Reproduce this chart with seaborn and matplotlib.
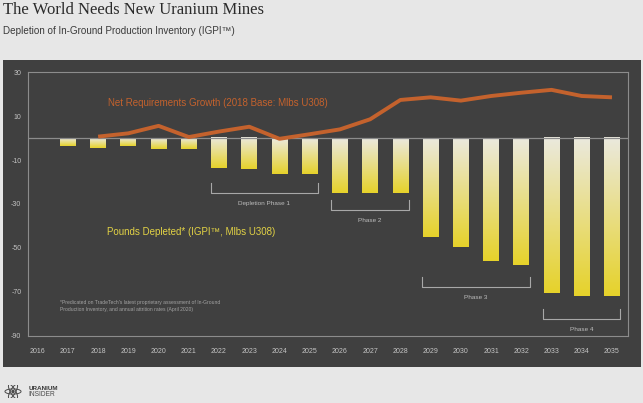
"""Uranium inventory depletion chart: gradient bars plus net requirements line."""

import matplotlib
matplotlib.use("Agg")  # headless rendering
import matplotlib.pyplot as plt
import numpy as np
import seaborn as sns
from matplotlib.colors import LinearSegmentedColormap
from matplotlib.patches import Ellipse, Circle, Rectangle

# --- data -----------------------------------------------------------------
axis_years = list(range(2016, 2036))
depleted_years = list(range(2017, 2036))
pounds_depleted = [-3.6, -4.3, -3.6, -4.8, -4.8,
                   -13.7, -14.2, -16.4, -16.3,
                   -25.0, -25.0, -25.0,
                   -45.0, -49.4, -55.9, -57.8,
                   -70.7, -72.0, -72.0]
growth_years = list(range(2018, 2036))
net_growth = [0.7, 2.2, 5.6, 0.5, 3.0, 5.2, -0.3, 1.8, 4.0, 8.6,
              17.4, 18.6, 17.1, 19.2, 20.7, 22.0, 19.2, 18.6]
y_ticks = [30, 10, -10, -30, -50, -70, -90]
phase_labels = ["Depletion Phase 1", "Phase 2", "Phase 3", "Phase 4"]
phase_first = [2022, 2026, 2029, 2033]
phase_last = [2025, 2028, 2032, 2035]

# --- style ----------------------------------------------------------------
BG = "#e7e7e7"
PANEL = "#404040"
FRAME = "#8c8c8c"
TICK = "#c4c4c4"
ORANGE = "#c4622d"
YELLOW = "#e2d245"
BAR_W = 0.52
phase_bracket_top = [-20.5, -28.2, -63.4, -77.9]  # bracket tick tops (data units)
BRACKET_DEPTH = 4.6
LABEL_GAP = 4.6

plt.rcParams["font.family"] = ["Liberation Sans", "DejaVu Sans"]
plt.rcParams["axes.unicode_minus"] = False

fig = plt.figure(figsize=(6.43, 4.03), dpi=100, facecolor=BG)
fig.patches.append(Rectangle((3 / 643, 1 - 366.7 / 403), 637.7 / 643, 306.7 / 403,
                             transform=fig.transFigure, facecolor=PANEL,
                             edgecolor="none", zorder=-10))

ax = fig.add_axes([28.3 / 643, 1 - 335.7 / 403, 599.4 / 643, 263.4 / 403])
ax.set_facecolor("none")

sns.barplot(x=depleted_years, y=pounds_depleted, native_scale=True, width=BAR_W,
            color=YELLOW, linewidth=0, errorbar=None, ax=ax, zorder=2)

# vertical gradient in each bar: cream at the zero line, yellow at the bottom
cmap = LinearSegmentedColormap.from_list("depl", ["#e6d22a", "#ebe9de"])
grad = np.linspace(0, 1, 256).reshape(-1, 1)
for bar in list(ax.patches):
    x0, w = bar.get_x(), bar.get_width()
    y0, h = bar.get_y(), bar.get_height()
    lo, hi = min(y0, y0 + h), max(y0, y0 + h)
    ax.imshow(grad, extent=(x0, x0 + w, lo, hi), origin="lower", cmap=cmap,
              aspect="auto", interpolation="bilinear", zorder=2)
    bar.set_visible(False)

ax.axhline(0, color=FRAME, linewidth=0.9, zorder=3)

sns.lineplot(x=growth_years, y=net_growth, color=ORANGE, linewidth=2.8,
             solid_capstyle="butt", solid_joinstyle="round", ax=ax, zorder=4)

# phase brackets
for label, first, last, top in zip(phase_labels, phase_first, phase_last, phase_bracket_top):
    left, right = first - BAR_W / 2 - 0.02, last + BAR_W / 2 + 0.02
    bottom = top - BRACKET_DEPTH
    ax.plot([left, left, right, right], [top, bottom, bottom, top],
            color="#a8a8a8", linewidth=0.8, zorder=3)
    ax.text((left + right) / 2, bottom - LABEL_GAP, label, ha="center", va="center",
            fontsize=4.6, color="#bdbdbd")

ax.text(2018.33, 15.8, "Net Requirements Growth (2018 Base: Mlbs U308)",
        fontsize=7, color=ORANGE, va="center", ha="left")
ax.text(2018.3, -42.7, "Pounds Depleted* (IGPI™, Mlbs U308)",
        fontsize=7, color=YELLOW, va="center", ha="left")
ax.text(2016.74, -76.5,
        "*Predicated on TradeTech's latest proprietary assessment of In-Ground\n"
        "Production Inventory, and annual attrition rates (April 2020)",
        fontsize=3.6, color="#a4a4a4", va="center", ha="left", linespacing=1.3)

ax.set_xlim(2015.69, 2035.52)
ax.set_ylim(-90, 30)
ax.set_xticks(axis_years)
ax.set_xticklabels([str(y) for y in axis_years])
ax.set_yticks(y_ticks)
ax.set_xlabel("")
ax.set_ylabel("")
ax.tick_params(axis="both", length=0, labelsize=5, labelcolor=TICK)
ax.tick_params(axis="x", pad=9)
ax.tick_params(axis="y", pad=5)
for spine in ax.spines.values():
    spine.set_color(FRAME)
    spine.set_linewidth(0.8)
ax.grid(False)

# titles
fig.text(3 / 643, 1 - 10 / 403, "The World Needs New Uranium Mines",
         family=["Liberation Serif", "DejaVu Serif"], fontsize=12,
         color="#2b2b2b", va="center", ha="left")
fig.text(3 / 643, 1 - 31 / 403, "Depletion of In-Ground Production Inventory (IGPI™)",
         fontsize=7.1, color="#3a3a3a", va="center", ha="left")

# logo
icon = fig.add_axes([4 / 643, 1 - 398 / 403, 18 / 643, 13 / 403])
icon.set_xlim(-1.4, 1.4)
icon.set_ylim(-1.0, 1.0)
icon.axis("off")
for angle in (0, 60, 120):
    icon.add_patch(Ellipse((0, 0), 2.5, 0.8, angle=angle, fill=False,
                           edgecolor="#4a4a4a", linewidth=0.7))
icon.add_patch(Circle((0, 0), 0.15, color="#4a4a4a"))
fig.text(28.7 / 643, 1 - 388.5 / 403, "URANIUM", fontsize=4.6, fontweight="bold",
         color="#3a3a3a", va="center", ha="left")
fig.text(28.7 / 643, 1 - 394.5 / 403, "INSIDER", fontsize=4.8,
         color="#4a4a4a", va="center", ha="left")

fig.savefig("out.png", dpi=100, facecolor=BG)
plt.close(fig)
